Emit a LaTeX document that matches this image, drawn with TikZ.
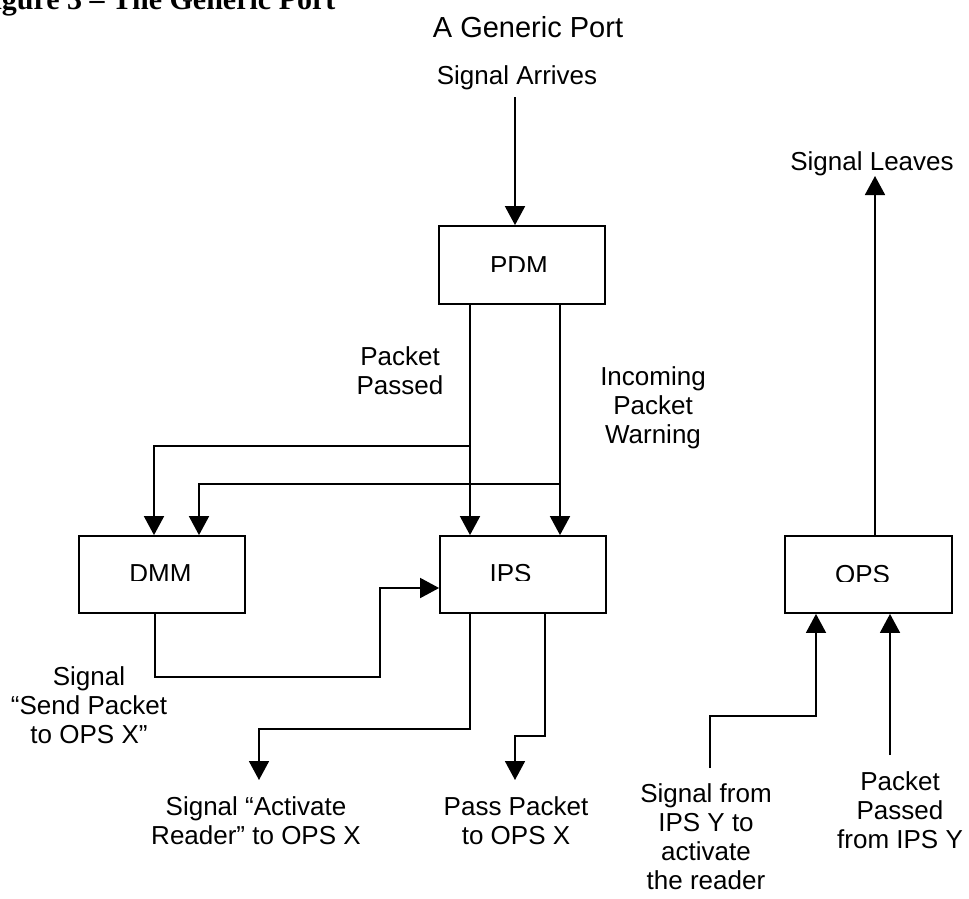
\documentclass[tikz,border=0pt]{standalone}
\usepackage{fontspec}
\setmainfont{Liberation Sans}
\newfontfamily\capfont{Liberation Serif}
\usetikzlibrary{arrows.meta}

\begin{document}
\begin{tikzpicture}[x=1pt,y=-1pt,
  wire/.style={line width=1.8pt},
  flow/.style={wire,-{Triangle[width=20pt,length=19pt]}},
  module/.style={draw,line width=1.8pt,minimum width=166pt,minimum height=77pt,inner sep=0pt},
  lbl/.style={font=\fontsize{26}{29}\selectfont,align=center,inner sep=0pt,anchor=north},
  one/.style={font=\fontsize{26}{29}\selectfont,inner sep=0pt,anchor=base},
]
\useasboundingbox (0,0) rectangle (969,898);
\fill[white] (0,0) rectangle (969,898);
\clip (0,0) rectangle (969,898);

% caption running off the top edge
\node[font=\capfont\bfseries\fontsize{30}{36}\selectfont,anchor=base west,inner sep=0pt]
  (figcap) at (-25,9.5) {Figure 3 – The Generic Port};

\node[one,font=\fontsize{29}{34}\selectfont] (title) at (528,37) {A Generic Port};

% modules
\node[module,minimum height=78pt] (pdm) at (522,265) {};
\node[module] (dmm) at (162,574.5) {};
\node[module] (ips) at (523,574.5) {};
\node[module,minimum width=167pt] (ops) at (868.5,574.5) {};

% module names, lower edge trimmed
\begin{scope}
  \clip (439,226) rectangle (605,271.5);
  \node[one] (pdmname) at (519,274) {PDM};
\end{scope}
\begin{scope}
  \clip (79,536) rectangle (245,580);
  \node[one] (dmmname) at (160.5,582) {DMM};
\end{scope}
\begin{scope}
  \clip (440,536) rectangle (606,580);
  \node[one] (ipsname) at (510.5,582) {IPS};
\end{scope}
\begin{scope}
  \clip (785,536) rectangle (952,581);
  \node[one] (opsname) at (862.5,583) {OPS};
\end{scope}

% lanes
\coordinate (la) at (470,0);
\coordinate (lb) at (560,0);
\coordinate (ja) at (470,446);
\coordinate (jb) at (560,484);
\coordinate (inTop) at (515,97);
\coordinate (dm1) at (380,677);
\coordinate (act) at (259,780);
\coordinate (pass) at (515,780);
\coordinate (leave) at (875,176);
\coordinate (sigY) at (710,768);
\coordinate (pktY) at (890,755);

% arriving signal
\draw[flow] (inTop) -- (inTop |- pdm.north);

% PDM to IPS and DMM
\draw[flow] (la |- pdm.south) -- (la |- ips.north);
\draw[flow] (lb |- pdm.south) -- (lb |- ips.north);
\draw[flow] (ja) -| ([xshift=-8pt]dmm.north);
\draw[flow] (jb) -| ([xshift=37pt]dmm.north);

% DMM to IPS
\draw[flow] ([xshift=-7pt]dmm.south) |- (dm1) |- ([yshift=-13.5pt]ips.west);

% IPS outputs
\draw[flow] ([xshift=-53pt]ips.south) -- ++(0,115) -| (act);
\draw[flow] ([xshift=22pt]ips.south) -- ++(0,122) -| (pass);

% OPS
\draw[flow] ([xshift=6.5pt]ops.north) -- (leave);
\draw[flow] (sigY) -- ++(0,-52) -| ([xshift=-52.5pt]ops.south);
\draw[flow] (pktY) -- (pktY |- ops.south);

% labels
\node[one] (arrives) at (517,84) {Signal Arrives};
\node[one] (leaves) at (872,170) {Signal Leaves};
\node[lbl] (passed) at (400,346) {Packet\\Passed};
\node[lbl] (warn) at (653,366) {Incoming\\Packet\\Warning};
\node[lbl] (send) at (89,666) {Signal\\“Send Packet\\to OPS X”};
\node[lbl] (actlbl) at (256,796) {Signal “Activate\\Reader” to OPS X};
\node[lbl] (passlbl) at (516,796) {Pass Packet\\to OPS X};
\node[lbl] (sigYlbl) at (706,783) {Signal from\\IPS Y to\\activate\\the reader};
\node[lbl] (pktYlbl) at (900,771) {Packet\\Passed\\from IPS Y};
\end{tikzpicture}
\end{document}
